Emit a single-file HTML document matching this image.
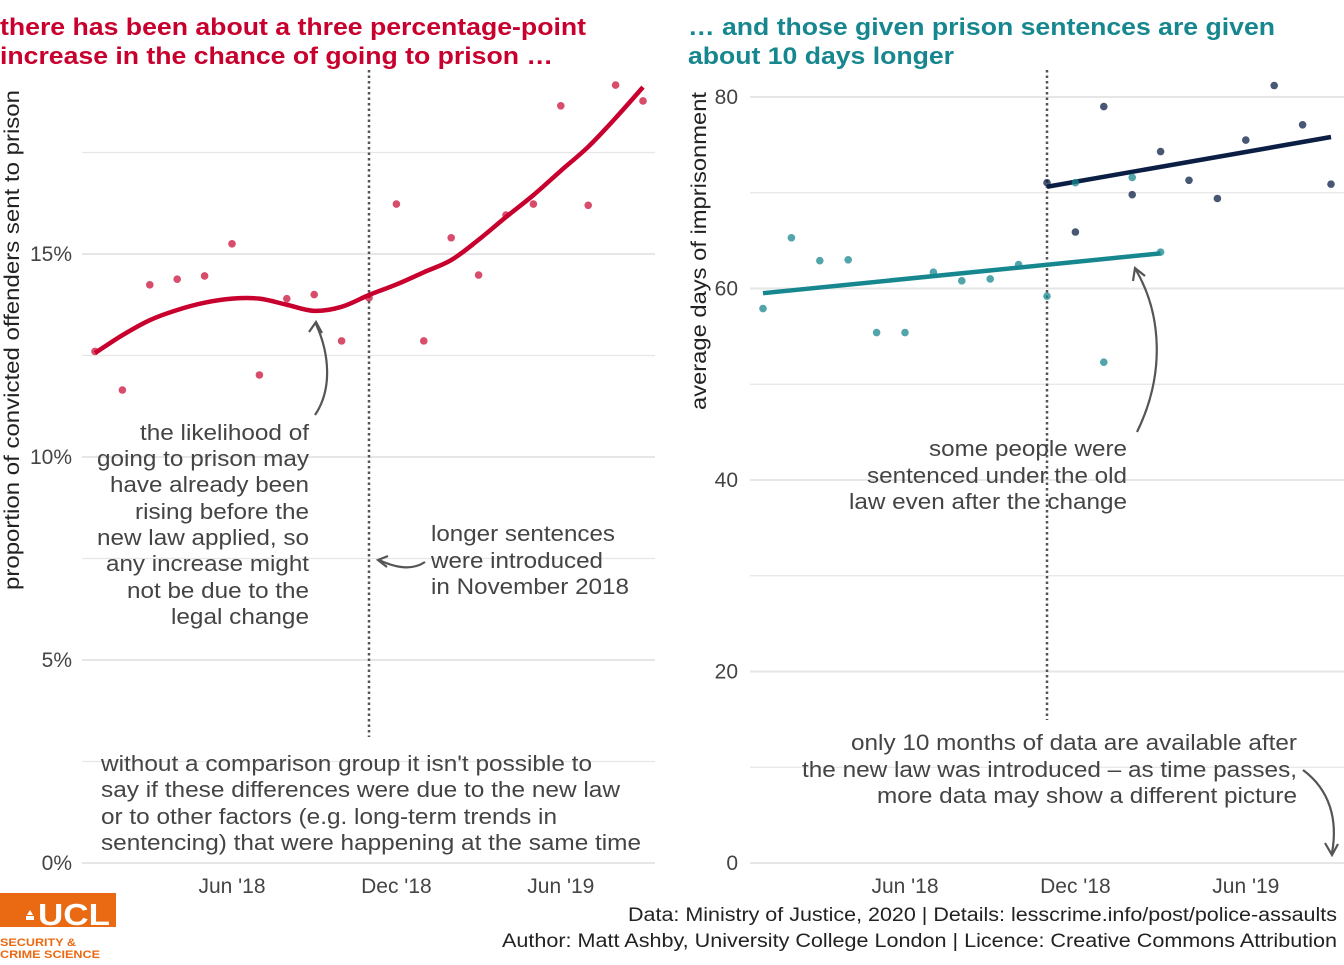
<!DOCTYPE html>
<html><head><meta charset="utf-8"><style>
body{margin:0;background:#fff}
svg text{font-family:"Liberation Sans",Arial,sans-serif}
</style></head><body>
<svg id="c" width="1344" height="960" viewBox="0 0 1344 960" xmlns="http://www.w3.org/2000/svg">
<g id="left"></g>
<g id="right"></g>
<g lengthAdjust="spacingAndGlyphs">
<text x="0" y="35" font-size="24" font-weight="bold" fill="#c8002d" textLength="586" lengthAdjust="spacingAndGlyphs">there has been about a three percentage-point</text>
<text x="0" y="64" font-size="24" font-weight="bold" fill="#c8002d" textLength="553" lengthAdjust="spacingAndGlyphs">increase in the chance of going to prison …</text>
<text x="688" y="35" font-size="24" font-weight="bold" fill="#17878f" textLength="587" lengthAdjust="spacingAndGlyphs">… and those given prison sentences are given</text>
<text x="688" y="64" font-size="24" font-weight="bold" fill="#17878f" textLength="266" lengthAdjust="spacingAndGlyphs">about 10 days longer</text>
</g>
<text transform="translate(19,340) rotate(-90)" text-anchor="middle" font-size="21" fill="#222" textLength="500" lengthAdjust="spacingAndGlyphs">proportion of convicted offenders sent to prison</text>
<text transform="translate(706,251) rotate(-90)" text-anchor="middle" font-size="21" fill="#222" textLength="318" lengthAdjust="spacingAndGlyphs">average days of imprisonment</text>
<g font-size="22" fill="#444">
<text x="140" y="440" textLength="169" lengthAdjust="spacingAndGlyphs">the likelihood of</text>
<text x="97" y="466" textLength="212" lengthAdjust="spacingAndGlyphs">going to prison may</text>
<text x="110" y="492" textLength="199" lengthAdjust="spacingAndGlyphs">have already been</text>
<text x="135" y="519" textLength="174" lengthAdjust="spacingAndGlyphs">rising before the</text>
<text x="97" y="545" textLength="212" lengthAdjust="spacingAndGlyphs">new law applied, so</text>
<text x="106" y="571" textLength="203" lengthAdjust="spacingAndGlyphs">any increase might</text>
<text x="127" y="598" textLength="182" lengthAdjust="spacingAndGlyphs">not be due to the</text>
<text x="171" y="624" textLength="138" lengthAdjust="spacingAndGlyphs">legal change</text>
</g>
<g font-size="22" fill="#444">
<text x="431" y="541" textLength="184" lengthAdjust="spacingAndGlyphs">longer sentences</text>
<text x="431" y="568" textLength="172" lengthAdjust="spacingAndGlyphs">were introduced</text>
<text x="431" y="594" textLength="198" lengthAdjust="spacingAndGlyphs">in November 2018</text>
</g>
<g font-size="22" fill="#444">
<text x="101" y="771" textLength="491" lengthAdjust="spacingAndGlyphs">without a comparison group it isn't possible to</text>
<text x="101" y="797" textLength="519" lengthAdjust="spacingAndGlyphs">say if these differences were due to the new law</text>
<text x="101" y="824" textLength="456" lengthAdjust="spacingAndGlyphs">or to other factors (e.g. long-term trends in</text>
<text x="101" y="850" textLength="540" lengthAdjust="spacingAndGlyphs">sentencing) that were happening at the same time</text>
</g>
<g font-size="22" fill="#444">
<text x="929" y="456" textLength="198" lengthAdjust="spacingAndGlyphs">some people were</text>
<text x="867" y="483" textLength="260" lengthAdjust="spacingAndGlyphs">sentenced under the old</text>
<text x="849" y="509" textLength="278" lengthAdjust="spacingAndGlyphs">law even after the change</text>
</g>
<g font-size="22" fill="#444">
<text x="851" y="750" textLength="446" lengthAdjust="spacingAndGlyphs">only 10 months of data are available after</text>
<text x="802" y="777" textLength="495" lengthAdjust="spacingAndGlyphs">the new law was introduced – as time passes,</text>
<text x="877" y="803" textLength="420" lengthAdjust="spacingAndGlyphs">more data may show a different picture</text>
</g>
<g fill="none" stroke="#555" stroke-width="2.2">
<path d="M315,415 C332,390 330,355 316,324"/><path d="M309,332 L316,322 L322,333"/>
<path d="M425,562 C410,572 392,566 379,560"/><path d="M388,556 L378,560 L387,567"/>
<path d="M1137,432 C1165,375 1162,315 1136,270"/><path d="M1133,281 L1135,268 L1145,276"/>
<path d="M1303,770 C1330,790 1338,820 1332,853"/><path d="M1325,843 L1332,855 L1338,844"/>
</g>
<g>
<rect x="0" y="893" width="116" height="34" fill="#ea6a13"/>
<text x="38" y="925" font-size="31" font-weight="bold" fill="#fff" textLength="72" lengthAdjust="spacingAndGlyphs">UCL</text>
<path d="M27,915 l3,-5 l3,5 z M26,916 h8 v4 h-8 z" fill="#fff"/>
<text x="0" y="946" font-size="11" font-weight="bold" fill="#ea6a13" textLength="76" lengthAdjust="spacingAndGlyphs">SECURITY &amp;</text>
<text x="0" y="958" font-size="11" font-weight="bold" fill="#ea6a13" textLength="100" lengthAdjust="spacingAndGlyphs">CRIME SCIENCE</text>
</g>
<g font-size="19" fill="#222">
<text x="628" y="921" textLength="709" lengthAdjust="spacingAndGlyphs">Data: Ministry of Justice, 2020 |  Details: lesscrime.info/post/police-assaults</text>
<text x="502" y="947" textLength="835" lengthAdjust="spacingAndGlyphs">Author: Matt Ashby, University College London |  Licence: Creative Commons Attribution</text>
</g>
</svg>
<script>
// ---- left chart data ----
const leftMonths = ["2018-01","2018-02","2018-03","2018-04","2018-05","2018-06","2018-07","2018-08","2018-09","2018-10","2018-11","2018-12","2019-01","2019-02","2019-03","2019-04","2019-05","2019-06","2019-07","2019-08","2019-09"];
const leftValues = [12.6,11.65,14.24,14.38,14.46,15.25,12.02,13.9,14.0,12.86,13.92,16.23,12.86,15.4,14.48,15.96,16.23,18.65,16.2,19.16,18.77];
const leftFitted = [12.56,13.0,13.37,13.62,13.8,13.9,13.9,13.75,13.6,13.7,13.99,14.25,14.55,14.85,15.35,15.91,16.45,17.05,17.64,18.35,19.11];
const leftTicks = [0,5,10,15];
const leftTickLabels = ["0%","5%","10%","15%"];
const leftGrid = [0,2.5,5,7.5,10,12.5,15,17.5];
// ---- right chart data ----
const rightBeforeMonths = ["2018-01","2018-02","2018-03","2018-04","2018-05","2018-06","2018-07","2018-08","2018-09","2018-10","2018-11","2018-12","2019-01","2019-02","2019-03"];
const rightBeforeValues = [57.9,65.3,62.9,63.0,55.4,55.4,61.7,60.8,61.0,62.5,59.2,71.05,52.3,71.6,63.8];
const rightAfterMonths = ["2018-11","2018-12","2019-01","2019-02","2019-03","2019-04","2019-05","2019-06","2019-07","2019-08","2019-09"];
const rightAfterValues = [71.05,65.9,79.0,69.8,74.3,71.3,69.4,75.5,81.2,77.1,70.9];
const rightTicks = [0,20,40,60,80];
const rightGrid = [0,10,20,30,40,50,60,70,80];
const xTickMonths = ["2018-06","2018-12","2019-06"];
const xTickLabels = ["Jun '18","Dec '18","Jun '19"];
const changeMonth = "2018-11";

const NS="http://www.w3.org/2000/svg";
function mi(m){const [y,mo]=m.split("-").map(Number);return (y-2018)*12+(mo-1);}
function mk(p,tag,at){const e=document.createElementNS(NS,tag);for(const k in at)e.setAttribute(k,at[k]);p.appendChild(e);return e;}
function smooth(pts){let d="M"+pts[0][0]+","+pts[0][1];for(let i=0;i<pts.length-1;i++){const p0=pts[i-1]||pts[i],p1=pts[i],p2=pts[i+1],p3=pts[i+2]||p2;d+=" C"+(p1[0]+(p2[0]-p0[0])/6)+","+(p1[1]+(p2[1]-p0[1])/6)+" "+(p2[0]-(p3[0]-p1[0])/6)+","+(p2[1]-(p3[1]-p1[1])/6)+" "+p2[0]+","+p2[1];}return d;}
function linfit(xs,ys){const n=xs.length,mx=xs.reduce((a,b)=>a+b)/n,my=ys.reduce((a,b)=>a+b)/n;let sxy=0,sxx=0;for(let i=0;i<n;i++){sxy+=(xs[i]-mx)*(ys[i]-my);sxx+=(xs[i]-mx)**2;}const b=sxy/sxx;return x=>my+b*(x-mx);}

// left axes
const L=document.getElementById("left");
const lx=m=>95+mi(m)*27.4, ly=v=>863-v*40.6;
leftGrid.forEach(v=>{const g=mk(L,"line",{x1:82,x2:655,y1:ly(v),y2:ly(v),stroke:"#e6e6e6","stroke-width":v%5===0?2:1.2});

});
leftTicks.forEach((v,i)=>{const t=mk(L,"text",{x:72,y:ly(v)+7,"text-anchor":"end","font-size":21,fill:"#444"});t.textContent=leftTickLabels[i];

});
xTickMonths.forEach((m,i)=>{const t=mk(L,"text",{x:lx(m),y:893,"text-anchor":"middle","font-size":21,fill:"#444"});t.textContent=xTickLabels[i];

});
const lv=mk(L,"line",{x1:lx(changeMonth),x2:lx(changeMonth),y1:70,y2:737,stroke:"#555","stroke-width":2.5,"stroke-dasharray":"2.5,3"});


const lp=mk(L,"path",{d:smooth(leftMonths.map((m,i)=>[lx(m),ly(leftFitted[i])])),fill:"none",stroke:"#c8002d","stroke-width":4.5});


leftMonths.forEach((m,i)=>{const c=mk(L,"circle",{cx:lx(m),cy:ly(leftValues[i]),r:3.8,fill:"#c8002d","fill-opacity":0.7});

});

// right axes
const R=document.getElementById("right");
const rx=m=>763+mi(m)*28.4, ry=v=>863-v*9.575;
rightGrid.forEach(v=>{const g=mk(R,"line",{x1:750,x2:1344,y1:ry(v),y2:ry(v),stroke:"#e6e6e6","stroke-width":v%20===0?2:1.2});

});
rightTicks.forEach(v=>{const t=mk(R,"text",{x:738,y:ry(v)+7,"text-anchor":"end","font-size":21,fill:"#444"});t.textContent=v;

});
xTickMonths.forEach((m,i)=>{const t=mk(R,"text",{x:rx(m),y:893,"text-anchor":"middle","font-size":21,fill:"#444"});t.textContent=xTickLabels[i];

});
const rv=mk(R,"line",{x1:rx(changeMonth),x2:rx(changeMonth),y1:70,y2:720,stroke:"#555","stroke-width":2.5,"stroke-dasharray":"2.5,3"});


function series(months,vals,col,name){
 const xs=months.map(mi),f=linfit(xs,vals);
 const a=months[0],b=months[months.length-1];
 const ln=mk(R,"line",{x1:rx(a),y1:ry(f(mi(a))),x2:rx(b),y2:ry(f(mi(b))),stroke:col,"stroke-width":4.5});
 
 
 return ()=>months.forEach((m,i)=>{const c=mk(R,"circle",{cx:rx(m),cy:ry(vals[i]),r:3.8,fill:col,"fill-opacity":0.75});
 
 });
}
const p1=series(rightBeforeMonths,rightBeforeValues,"#17878f","old-law");
const p2=series(rightAfterMonths,rightAfterValues,"#0b1f45","new-law");
p1();p2();
</script>
</body></html>
